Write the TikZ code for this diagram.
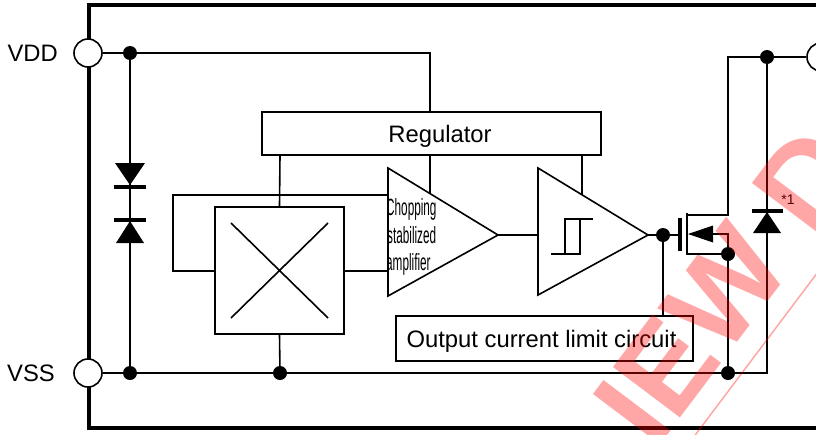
\documentclass[tikz,border=0pt]{standalone}
\usepackage{fontspec}
\setmainfont{Liberation Sans}
\usepackage{graphicx}
\begin{document}
\begin{tikzpicture}[x=1pt,y=-1pt,
  wire/.style={line width=1.6pt},
  frame/.style={line width=4pt},
  thickbar/.style={line width=4pt},
  pin/.style={circle,draw,line width=1.6pt,fill=white,minimum size=28pt,inner sep=0pt},
  jdot/.style={circle,fill=black,minimum size=14pt,inner sep=0pt},
  blockbox/.style={draw,line width=1.6pt,inner sep=0pt},
  lbl/.style={font=\fontsize{23.8}{28}\selectfont,inner sep=0pt},
  narrow/.style={font=\fontsize{23.5}{28}\selectfont,inner sep=0pt,anchor=base west},
  wmark/.style={text=red,text opacity=0.35,font=\bfseries\fontsize{122}{122}\selectfont,inner sep=0pt},
]
\useasboundingbox (0,0) rectangle (816,434);
\begin{scope}
\clip (0,0) rectangle (816,434);
% frame
\draw[frame] (830,5) -- (89,5) -- (89,428) -- (830,428);
% coordinates
\coordinate (vddturn) at (430,53);
\coordinate (regin) at (430,112);
\coordinate (lpA) at (173,271);
\coordinate (lpB) at (173,195);
\coordinate (ampinA) at (388,195);
\coordinate (ampinB) at (388,271);
\coordinate (xl) at (215,271);
\coordinate (xr) at (344,271);
\coordinate (ampout) at (498,235);
\coordinate (compin) at (538,235);
\coordinate (compout) at (648,235);
\coordinate (gatein) at (678,235);
\coordinate (drn) at (687,215);
\coordinate (drnturn) at (728,215);
\coordinate (drnup) at (728,57);
\coordinate (src) at (687,254);
\coordinate (bodyA) at (713,234);
\coordinate (bodyB) at (728,234);
\coordinate (vssturn) at (767,373);
% blocks
\node[blockbox,minimum width=339pt,minimum height=43pt] (reg) at (431.5,133.5) {};
\node[lbl,anchor=base] (regtxt) at (440,142) {Regulator};
\node[blockbox,minimum width=129pt,minimum height=127pt] (xbox) at (279.5,270.5) {};
\draw[wire] (231,223) -- (328,318) (328,223) -- (231,318);
\node[blockbox,minimum width=297pt,minimum height=45pt] (lim) at (544.5,338.5) {};
\node[lbl,anchor=base] (limtxt) at (541.5,347) {Output current limit circuit};
% amplifier
\draw[wire,line join=miter] (388,168) coordinate (ampT) -- (498,235) -- (388,296) coordinate (ampB) -- cycle;
\begin{scope}
\clip (389.5,170) rectangle (470,300);
\node[narrow] (t1) at (386,215) {\scalebox{0.5}[1]{Chopping}};
\node[narrow] (t2) at (387,243) {\scalebox{0.5}[1]{stabilized}};
\node[narrow] (t3) at (386,270) {\scalebox{0.5}[1]{amplifier}};
\end{scope}
% comparator
\draw[wire,line join=miter] (538,168) -- (648,235) -- (538,295) -- cycle;
\draw[wire] (551,254) -- (580,254) -- (580,219);
\draw[wire] (565,254) -- (565,219) -- (593,219);
% pins
\node[pin] (vdd) at (88,53) {};
\node[pin] (vss) at (88,373) {};
\node[pin] (out) at (821,57) {};
\node[lbl,anchor=base east] (vddl) at (58,61.5) {VDD};
\node[lbl,anchor=base east] (vssl) at (55,381.5) {VSS};
% dots
\node[jdot] (d1) at (130,53) {};
\node[jdot] (d2) at (130,373) {};
\node[jdot] (d3) at (280,373) {};
\node[jdot] (d4) at (728,373) {};
\node[jdot] (d5) at (728,254) {};
\node[jdot] (d6) at (663,235) {};
\node[jdot] (d7) at (767,57) {};
% wires
\draw[wire] (vdd) -- (d1) -- (vddturn) -- (regin);
\draw[wire] (d1) -- (d2);
\draw[wire] (vss) -- (d2) -- (d3) -- (d4) -- (vssturn) -- (d7) -- (out);
\draw[wire] (280,155) -- (xbox.north);
\draw[wire] (430,155) -- (430,193.6);
\draw[wire] (582,155) -- (582,194.8);
\draw[wire] (xl) -- (lpA) -- (lpB) -- (ampinA);
\draw[wire] (xr) -- (ampinB);
\draw[wire] (d3) -- (xbox.south);
\draw[wire] (ampout) -- (compin);
\draw[wire] (compout) -- (d6) -- (gatein);
\draw[wire] (d6) -- (lim.north -| d6);
% mosfet
\draw[thickbar] (680,218) -- (680,251);
\draw[wire] (687,213) -- (687,255);
\draw[wire] (drn) -- (drnturn) -- (drnup) -- (d7);
\draw[wire] (src) -- (d5);
\draw[wire] (bodyA) -- (bodyB) -- (d5);
\fill (688,234) -- (713,225.5) -- (713,242.5) -- cycle;
\draw[wire] (d5) -- (d4);
% left diodes
\fill (115,163) -- (145,163) -- (130,185) -- cycle;
\draw[thickbar] (114,187) -- (146,187);
\draw[thickbar] (114,220) -- (146,220);
\fill (130,221) -- (116,243) -- (144,243) -- cycle;
% right diode
\draw[thickbar] (752,211) -- (783,211);
\fill (767,212) -- (753,233) -- (781,233) -- cycle;
\node[inner sep=0pt,font=\fontsize{14}{14}\selectfont] (star) at (788,200) {*1};
% watermark
\node[wmark,rotate=53,anchor=base west] (wm) at (655,452) {IEW D};
\draw[red,opacity=0.35,line width=1.5pt] (690,442) coordinate (wl1) -- (830,256) coordinate (wl2);
\end{scope}
\end{tikzpicture}
\end{document}
